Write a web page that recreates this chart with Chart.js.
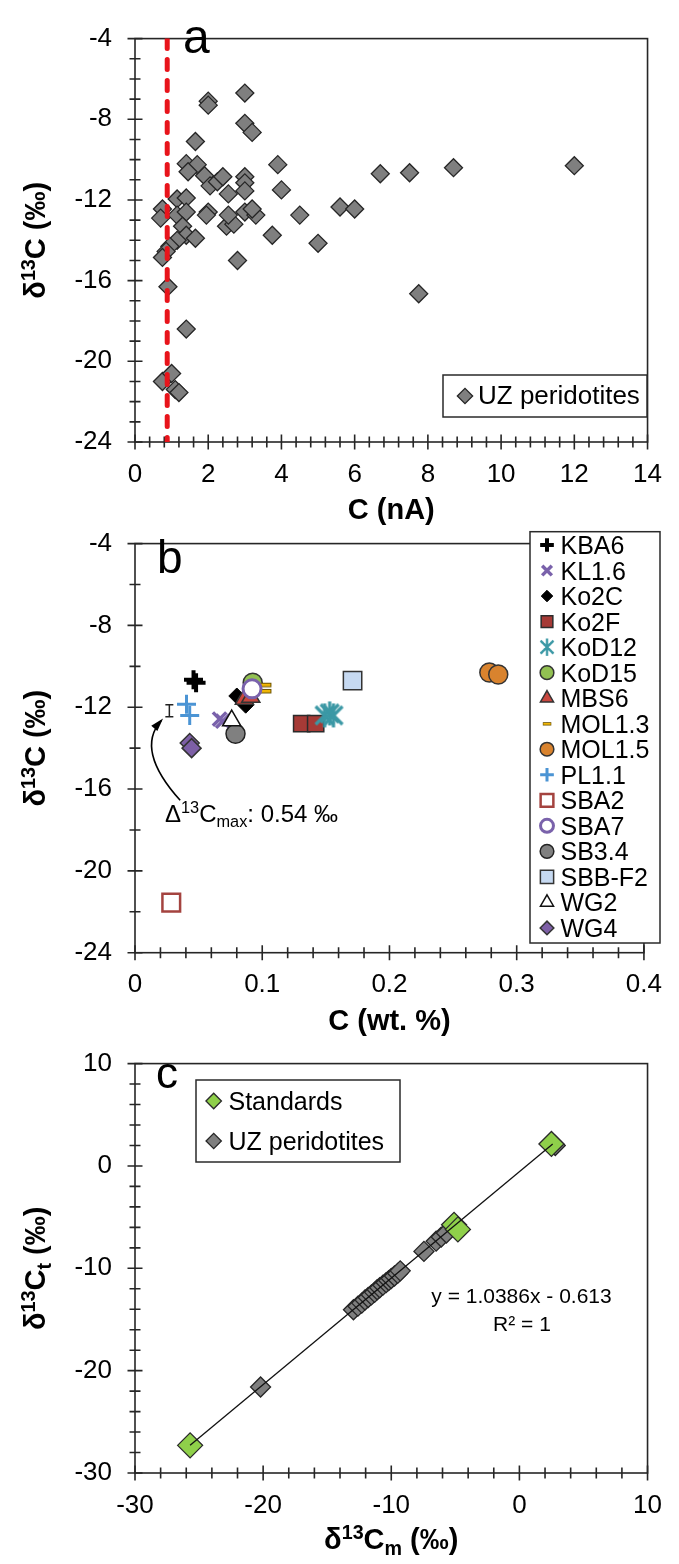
<!DOCTYPE html>
<html>
<head>
<meta charset="utf-8">
<script src="https://cdn.jsdelivr.net/npm/chart.js@4.4.0/dist/chart.umd.min.js"></script>
<style>
  html, body { margin: 0; padding: 0; background: #fff; }
  #wrap { position: relative; width: 679px; height: 1564px; overflow: hidden; }
  canvas { position: absolute; left: 0; }
</style>
</head>
<body>
<div id="wrap">
  <canvas id="chartA" width="679" height="530" style="top:0px"></canvas>
  <canvas id="chartB" width="679" height="540" style="top:505px"></canvas>
  <canvas id="chartC" width="679" height="539" style="top:1025px"></canvas>
</div>
<script>
const FONT = '"Liberation Sans", Arial, Helvetica, sans-serif';

// ---- panel a : UZ peridotites, C (nA) vs d13C
const uzCurrent = [3.0, 2.0, 2.0, 3.0, 3.2, 1.65, 3.9, 1.4, 1.7, 1.45, 1.9, 2.05, 2.25, 2.4, 2.55,
  3.0, 3.0, 3.0, 4.0, 1.15, 1.4, 0.75, 0.7, 1.15, 1.4, 1.3, 1.4, 1.65, 1.15, 0.95, 0.85, 0.75,
  2.0, 1.95, 2.5, 2.7, 2.55, 3.0, 3.3, 3.2, 3.75, 4.5, 5.0, 5.6, 6.0, 6.7, 7.5, 8.7, 12.0,
  7.75, 2.8, 0.9, 1.4, 0.75, 1.0, 1.1, 1.2];
const uzDelta = [-6.7, -7.1, -7.3, -8.2, -8.65, -9.1, -10.25, -10.2, -10.25, -10.6, -10.8, -11.3, -11.1, -10.85, -11.7,
  -10.85, -11.15, -11.55, -11.5, -11.95, -11.9, -12.45, -12.9, -12.75, -12.6, -13.3, -13.75, -13.9, -14.0, -14.3, -14.55, -14.85,
  -12.6, -12.75, -13.3, -13.2, -12.75, -12.6, -12.75, -12.45, -13.75, -12.75, -14.15, -12.35, -12.45, -10.7, -10.65, -10.4, -10.3,
  -16.65, -15.0, -16.3, -18.4, -21.0, -20.6, -21.4, -21.55];
const limitCurrent = [0.88, 0.88];
const limitDelta = [-4, -24];

// ---- panel b : samples, C (wt. %) vs d13C
const sampleNames = ["KBA6", "KL1.6", "Ko2C", "Ko2F", "KoD12", "KoD15", "MBS6", "MOL1.3",
  "MOL1.5", "PL1.1", "SBA2", "SBA7", "SB3.4", "SBB-F2", "WG2", "WG4"];
const sampleCarbon = [
  [0.046, 0.048],
  [0.0665, 0.069],
  [0.080, 0.087],
  [0.131, 0.142],
  [0.149, 0.153, 0.156],
  [0.0925],
  [0.086, 0.091],
  [0.1025, 0.1025],
  [0.2785, 0.2855],
  [0.0405, 0.043],
  [0.0285],
  [0.092],
  [0.079],
  [0.171],
  [0.076],
  [0.043, 0.0445]
];
const sampleDelta = [
  [-10.65, -10.8],
  [-12.58, -12.68],
  [-11.45, -11.9],
  [-12.8, -12.8],
  [-12.4, -12.3, -12.4],
  [-10.8],
  [-11.6, -11.5],
  [-10.9, -11.2],
  [-10.3, -10.4],
  [-11.85, -12.4],
  [-21.55],
  [-11.1],
  [-13.3],
  [-10.7],
  [-12.65],
  [-13.75, -14.0]
];
const errBarCarbon = [0.027, 0.027];
const errBarDelta = [-11.88, -12.46];

// ---- panel c : measured vs true d13C
const stdMeasured = [-25.7, -5.1, -4.8, 2.5];
const stdTrue = [-27.3, -5.75, -6.2, 2.15];
const uzMeasured = [-20.2, -12.95, -12.6, -12.3, -12.05, -11.8, -11.55, -11.3, -11.1, -10.9, -10.65,
  -10.4, -10.2, -10.0, -9.75, -9.5, -9.3, -7.45, -6.5, -6.1, -5.7, 2.8];
const uzTrue = [-21.6, -14.05, -13.7, -13.4, -13.1, -12.85, -12.6, -12.35, -12.1, -11.9, -11.65,
  -11.4, -11.2, -11.0, -10.75, -10.5, -10.25, -8.35, -7.35, -6.95, -6.55, 2.0];
const fitMeasured = [-25.7, 2.6];
const fitTrue = [-27.3, 2.15];

const pts = (xs, ys) => xs.map((v, i) => ({ x: v, y: ys[i] }));

// little custom markers
function asteriskImage(color) {
  const c = document.createElement('canvas');
  c.width = 26; c.height = 26;
  const g = c.getContext('2d');
  g.strokeStyle = color; g.lineWidth = 3.2;
  g.beginPath();
  g.moveTo(13, 1); g.lineTo(13, 25);
  g.moveTo(4, 4); g.lineTo(22, 22);
  g.moveTo(22, 4); g.lineTo(4, 22);
  g.stroke();
  return c;
}
function dashImage() {
  const c = document.createElement('canvas');
  c.width = 14; c.height = 8;
  const g = c.getContext('2d');
  g.fillStyle = '#f2b705'; g.fillRect(1, 2, 12, 4);
  g.strokeStyle = '#6b5200'; g.lineWidth = 1; g.strokeRect(1.5, 2.5, 11, 3.5);
  return c;
}

const sampleStyles = [
  { shape: 'cross', fill: '#000', line: '#000', width: 4, r: 9.5 },
  { shape: 'crossRot', fill: '#7a62ab', line: '#7a62ab', width: 3.5, r: 9.5 },
  { shape: 'rectRot', fill: '#000', line: '#000', width: 1, r: 8 },
  { shape: 'rect', fill: '#a63a36', line: '#2b2b2b', width: 1.5, r: 11.5 },
  { shape: asteriskImage('#3b98a5'), fill: '#3b98a5', line: '#3b98a5', width: 3, r: 10 },
  { shape: 'circle', fill: '#92c052', line: '#333', width: 1.5, r: 9.5 },
  { shape: 'triangle', fill: '#c9473f', line: '#333', width: 1.5, r: 10.5 },
  { shape: dashImage(), fill: '#f2b705', line: '#6b5200', width: 1, r: 6 },
  { shape: 'circle', fill: '#d9832e', line: '#333', width: 1.5, r: 9.5 },
  { shape: 'cross', fill: '#4b94d4', line: '#4b94d4', width: 3, r: 9.5 },
  { shape: 'rect', fill: '#fff', line: '#a4433f', width: 2.5, r: 12.5 },
  { shape: 'circle', fill: '#fff', line: '#7a62ab', width: 3, r: 9 },
  { shape: 'circle', fill: '#808080', line: '#222', width: 1.5, r: 9.5 },
  { shape: 'rect', fill: '#c6d9f1', line: '#333', width: 1.5, r: 13 },
  { shape: 'triangle', fill: '#fff', line: '#111', width: 1.5, r: 10.5 },
  { shape: 'rectRot', fill: '#7d5fa6', line: '#333', width: 1.5, r: 9.5 }
];
const uzStyle = { shape: 'rectRot', fill: '#7f7f7f', line: '#262626', width: 1.3, r: 9 };
const stdStyle = { shape: 'rectRot', fill: '#8fd04a', line: '#2a2a2a', width: 1.3, r: 12.5 };

// ---- drawing helpers
function richText(ctx, parts, x, y, size, weight, align, rot) {
  const small = size * 0.68;
  const fontFor = p => `${weight} ${(p.sup || p.sub) ? small : size}px ${FONT}`;
  let total = 0;
  const widths = parts.map(p => { ctx.font = fontFor(p); const w = ctx.measureText(p.t).width; total += w; return w; });
  ctx.save();
  ctx.translate(x, y);
  if (rot) ctx.rotate(rot);
  ctx.fillStyle = '#000';
  ctx.textAlign = 'left';
  ctx.textBaseline = 'alphabetic';
  let cx = align === 'center' ? -total / 2 : 0;
  parts.forEach((p, i) => {
    ctx.font = fontFor(p);
    const dy = p.sup ? -size * 0.36 : p.sub ? size * 0.2 : 0;
    ctx.fillText(p.t, cx, dy);
    cx += widths[i];
  });
  ctx.restore();
}

function plainText(ctx, s, x, y, size, align) {
  ctx.save();
  ctx.fillStyle = '#000';
  ctx.font = `${size}px ${FONT}`;
  ctx.textAlign = align || 'left';
  ctx.textBaseline = 'alphabetic';
  ctx.fillText(s, x, y);
  ctx.restore();
}

function marker(ctx, st, x, y, scale) {
  if (typeof st.shape === 'object') {
    const w = st.shape.width * scale, h = st.shape.height * scale;
    ctx.drawImage(st.shape, x - w / 2, y - h / 2, w, h);
    return;
  }
  ctx.save();
  ctx.fillStyle = st.fill;
  ctx.strokeStyle = st.line;
  ctx.lineWidth = st.width;
  Chart.helpers.drawPoint(ctx, { pointStyle: st.shape, rotation: 0, radius: st.r * scale, borderWidth: st.width }, x, y);
  ctx.restore();
}

function legendBox(ctx, x, y, w, h) {
  ctx.save();
  ctx.fillStyle = '#fff';
  ctx.strokeStyle = '#2a2a2a';
  ctx.lineWidth = 1.5;
  ctx.fillRect(x, y, w, h);
  ctx.strokeRect(x, y, w, h);
  ctx.restore();
}

function tickMarks(ctx, scale, minor, major, horizontal, a) {
  const n = Math.round((scale.max - scale.min) / minor);
  for (let i = 0; i <= n; i++) {
    const v = scale.min + i * minor;
    const isMajor = Math.abs(v / major - Math.round(v / major)) < 1e-6;
    const len = isMajor ? 7.5 : 5.5;
    const p = scale.getPixelForValue(v);
    if (horizontal) { ctx.moveTo(p, a.bottom - len); ctx.lineTo(p, a.bottom + len); }
    else { ctx.moveTo(a.left - len, p); ctx.lineTo(a.left + len, p); }
  }
}

function makeDeco(cfg) {
  return {
    id: 'deco',
    beforeDatasetsDraw(chart) {
      const { ctx, chartArea: a, scales } = chart;
      ctx.save();
      ctx.strokeStyle = '#262626';
      ctx.lineWidth = 1.6;
      ctx.strokeRect(a.left, a.top, a.right - a.left, a.bottom - a.top);
      ctx.beginPath();
      tickMarks(ctx, scales.x, cfg.xMinor, cfg.xStep, true, a);
      tickMarks(ctx, scales.y, cfg.yMinor, cfg.yStep, false, a);
      ctx.stroke();
      ctx.restore();
    },
    afterDraw(chart) {
      const { ctx, chartArea: a } = chart;
      const t = cfg.top;
      richText(ctx, cfg.xTitle, (a.left + a.right) / 2, cfg.xTitleBase - t, 29, 'bold', 'center', 0);
      richText(ctx, cfg.yTitle, 45, (a.top + a.bottom) / 2, 29, 'bold', 'center', -Math.PI / 2);
      plainText(ctx, cfg.letter, cfg.letterX, cfg.letterBase - t, cfg.letterSize);
      if (cfg.extra) cfg.extra(chart, t);
    }
  };
}

function scatterChart(id, cfg, datasets) {
  return new Chart(document.getElementById(id), {
    type: 'scatter',
    data: { datasets },
    options: {
      responsive: false,
      animation: false,
      events: [],
      layout: { padding: { top: cfg.plotTop - cfg.top, right: 679 - cfg.plotRight, left: 0, bottom: 0 } },
      plugins: { legend: { display: false }, tooltip: { enabled: false } },
      scales: {
        x: {
          type: 'linear', min: cfg.xMin, max: cfg.xMax,
          grid: { display: false, drawTicks: false }, border: { display: false },
          ticks: { stepSize: cfg.xStep, autoSkip: false, maxRotation: 0, padding: 17, color: '#000', font: { family: FONT, size: 26 } },
          afterFit: s => { s.height = cfg.height - (cfg.plotBottom - cfg.top); }
        },
        y: {
          type: 'linear', min: cfg.yMin, max: cfg.yMax,
          grid: { display: false, drawTicks: false }, border: { display: false },
          ticks: { stepSize: cfg.yStep, autoSkip: false, padding: 23, color: '#000', font: { family: FONT, size: 26 } },
          afterFit: s => { s.width = cfg.plotLeft; }
        }
      }
    },
    plugins: [makeDeco(cfg)]
  });
}

const d13C = [{ t: 'δ' }, { t: '13', sup: 1 }, { t: 'C (‰)' }];

// ---- panel a
scatterChart('chartA', {
  top: 0, height: 530, plotTop: 18, plotBottom: 442, plotLeft: 135, plotRight: 659.5,
  xMin: 0, xMax: 14, xStep: 2, xMinor: 0.4, yMin: -24, yMax: -4, yStep: 4, yMinor: 1,
  xTitle: [{ t: 'C (nA)' }], xTitleBase: 519, yTitle: d13C,
  letter: 'a', letterX: 183, letterBase: 53, letterSize: 48,
  extra(chart, t) {
    const ctx = chart.ctx;
    legendBox(ctx, 443, 375 - t, 204, 42);
    marker(ctx, uzStyle, 465, 396 - t, 0.85);
    plainText(ctx, 'UZ peridotites', 478, 404 - t, 26);
  }
}, [
  { data: pts(limitCurrent, limitDelta), showLine: true, borderColor: '#e8141b', borderWidth: 5,
    borderDash: [10, 11], borderCapStyle: 'round', pointRadius: 0, order: 0 },
  { data: pts(uzCurrent, uzDelta), pointStyle: uzStyle.shape, pointRadius: uzStyle.r,
    pointBackgroundColor: uzStyle.fill, pointBorderColor: uzStyle.line, pointBorderWidth: uzStyle.width, order: 1 }
]);

// ---- panel b
const dsB = sampleNames.map((name, i) => {
  const st = sampleStyles[i];
  return {
    label: name,
    data: pts(sampleCarbon[i], sampleDelta[i]),
    pointStyle: st.shape, pointRadius: st.r,
    pointBackgroundColor: st.fill, pointBorderColor: st.line, pointBorderWidth: st.width,
    order: sampleNames.length - i
  };
});
dsB.push({ data: pts(errBarCarbon, errBarDelta), showLine: true, borderColor: '#222', borderWidth: 1.5,
  pointStyle: 'line', pointRadius: 4, pointBorderColor: '#222', pointBorderWidth: 1.5, order: 0 });

scatterChart('chartB', {
  top: 505, height: 540, plotTop: 531.7, plotBottom: 952.7, plotLeft: 135, plotRight: 660,
  xMin: 0, xMax: 0.4, xStep: 0.1, xMinor: 0.02, yMin: -24, yMax: -4, yStep: 4, yMinor: 2,
  xTitle: [{ t: 'C (wt. %)' }], xTitleBase: 1030, yTitle: d13C,
  letter: 'b', letterX: 157, letterBase: 573, letterSize: 46,
  extra(chart, t) {
    const ctx = chart.ctx;
    const xs = chart.scales.x, ys = chart.scales.y;
    // arrow pointing at the error bar
    const P = (vx, vy) => [xs.getPixelForValue(vx), ys.getPixelForValue(vy)];
    const [sx, sy] = P(0.0355, -16.55), [qx, qy] = P(0.0, -14.1), [ex, ey] = P(0.0205, -12.66);
    ctx.save();
    ctx.strokeStyle = '#000'; ctx.fillStyle = '#000'; ctx.lineWidth = 1.6;
    ctx.beginPath(); ctx.moveTo(sx, sy); ctx.quadraticCurveTo(qx, qy, ex, ey); ctx.stroke();
    const ang = Math.atan2(ey - qy, ex - qx);
    ctx.beginPath();
    ctx.moveTo(ex + Math.cos(ang) * 3, ey + Math.sin(ang) * 3);
    ctx.lineTo(ex - 11 * Math.cos(ang - 0.38), ey - 11 * Math.sin(ang - 0.38));
    ctx.lineTo(ex - 11 * Math.cos(ang + 0.38), ey - 11 * Math.sin(ang + 0.38));
    ctx.closePath(); ctx.fill();
    ctx.restore();
    richText(ctx, [{ t: 'Δ' }, { t: '13', sup: 1 }, { t: 'C' }, { t: 'max', sub: 1 }, { t: ': 0.54 ‰' }],
      165, 822 - t, 24, 'normal', 'left', 0);
    // legend
    legendBox(ctx, 530, 531.7 - t, 130, 411.3);
    sampleNames.forEach((name, i) => {
      const yc = 545 + i * 25.53 - t;
      marker(ctx, sampleStyles[i], 547, yc, 0.72);
      plainText(ctx, name, 560.5, yc + 9, 25);
    });
  }
}, dsB);

// ---- panel c
scatterChart('chartC', {
  top: 1025, height: 539, plotTop: 1050.5, plotBottom: 1473, plotLeft: 135, plotRight: 659.5,
  xMin: -30, xMax: 10, xStep: 10, xMinor: 2, yMin: -30, yMax: 10, yStep: 10, yMinor: 2,
  xTitle: [{ t: 'δ' }, { t: '13', sup: 1 }, { t: 'C' }, { t: 'm', sub: 1 }, { t: ' (‰)' }], xTitleBase: 1549,
  yTitle: [{ t: 'δ' }, { t: '13', sup: 1 }, { t: 'C' }, { t: 't', sub: 1 }, { t: ' (‰)' }],
  letter: 'c', letterX: 156, letterBase: 1088, letterSize: 44,
  extra(chart, t) {
    const ctx = chart.ctx;
    legendBox(ctx, 196, 1080 - t, 204, 82);
    marker(ctx, stdStyle, 213.7, 1101 - t, 0.62);
    plainText(ctx, 'Standards', 228.5, 1110 - t, 25);
    marker(ctx, uzStyle, 213.7, 1141 - t, 0.85);
    plainText(ctx, 'UZ peridotites', 228.5, 1150 - t, 25);
    plainText(ctx, 'y = 1.0386x - 0.613', 521.5, 1303 - t, 21, 'center');
    plainText(ctx, 'R² = 1', 522, 1331 - t, 21, 'center');
  }
}, [
  { data: pts(fitMeasured, fitTrue), showLine: true, borderColor: '#111', borderWidth: 1.3, pointRadius: 0, order: 0 },
  { data: pts(stdMeasured, stdTrue), pointStyle: stdStyle.shape, pointRadius: stdStyle.r,
    pointBackgroundColor: stdStyle.fill, pointBorderColor: stdStyle.line, pointBorderWidth: stdStyle.width, order: 1 },
  { data: pts(uzMeasured, uzTrue), pointStyle: uzStyle.shape, pointRadius: 10,
    pointBackgroundColor: uzStyle.fill, pointBorderColor: uzStyle.line, pointBorderWidth: uzStyle.width, order: 2 }
]);
</script>
</body>
</html>
